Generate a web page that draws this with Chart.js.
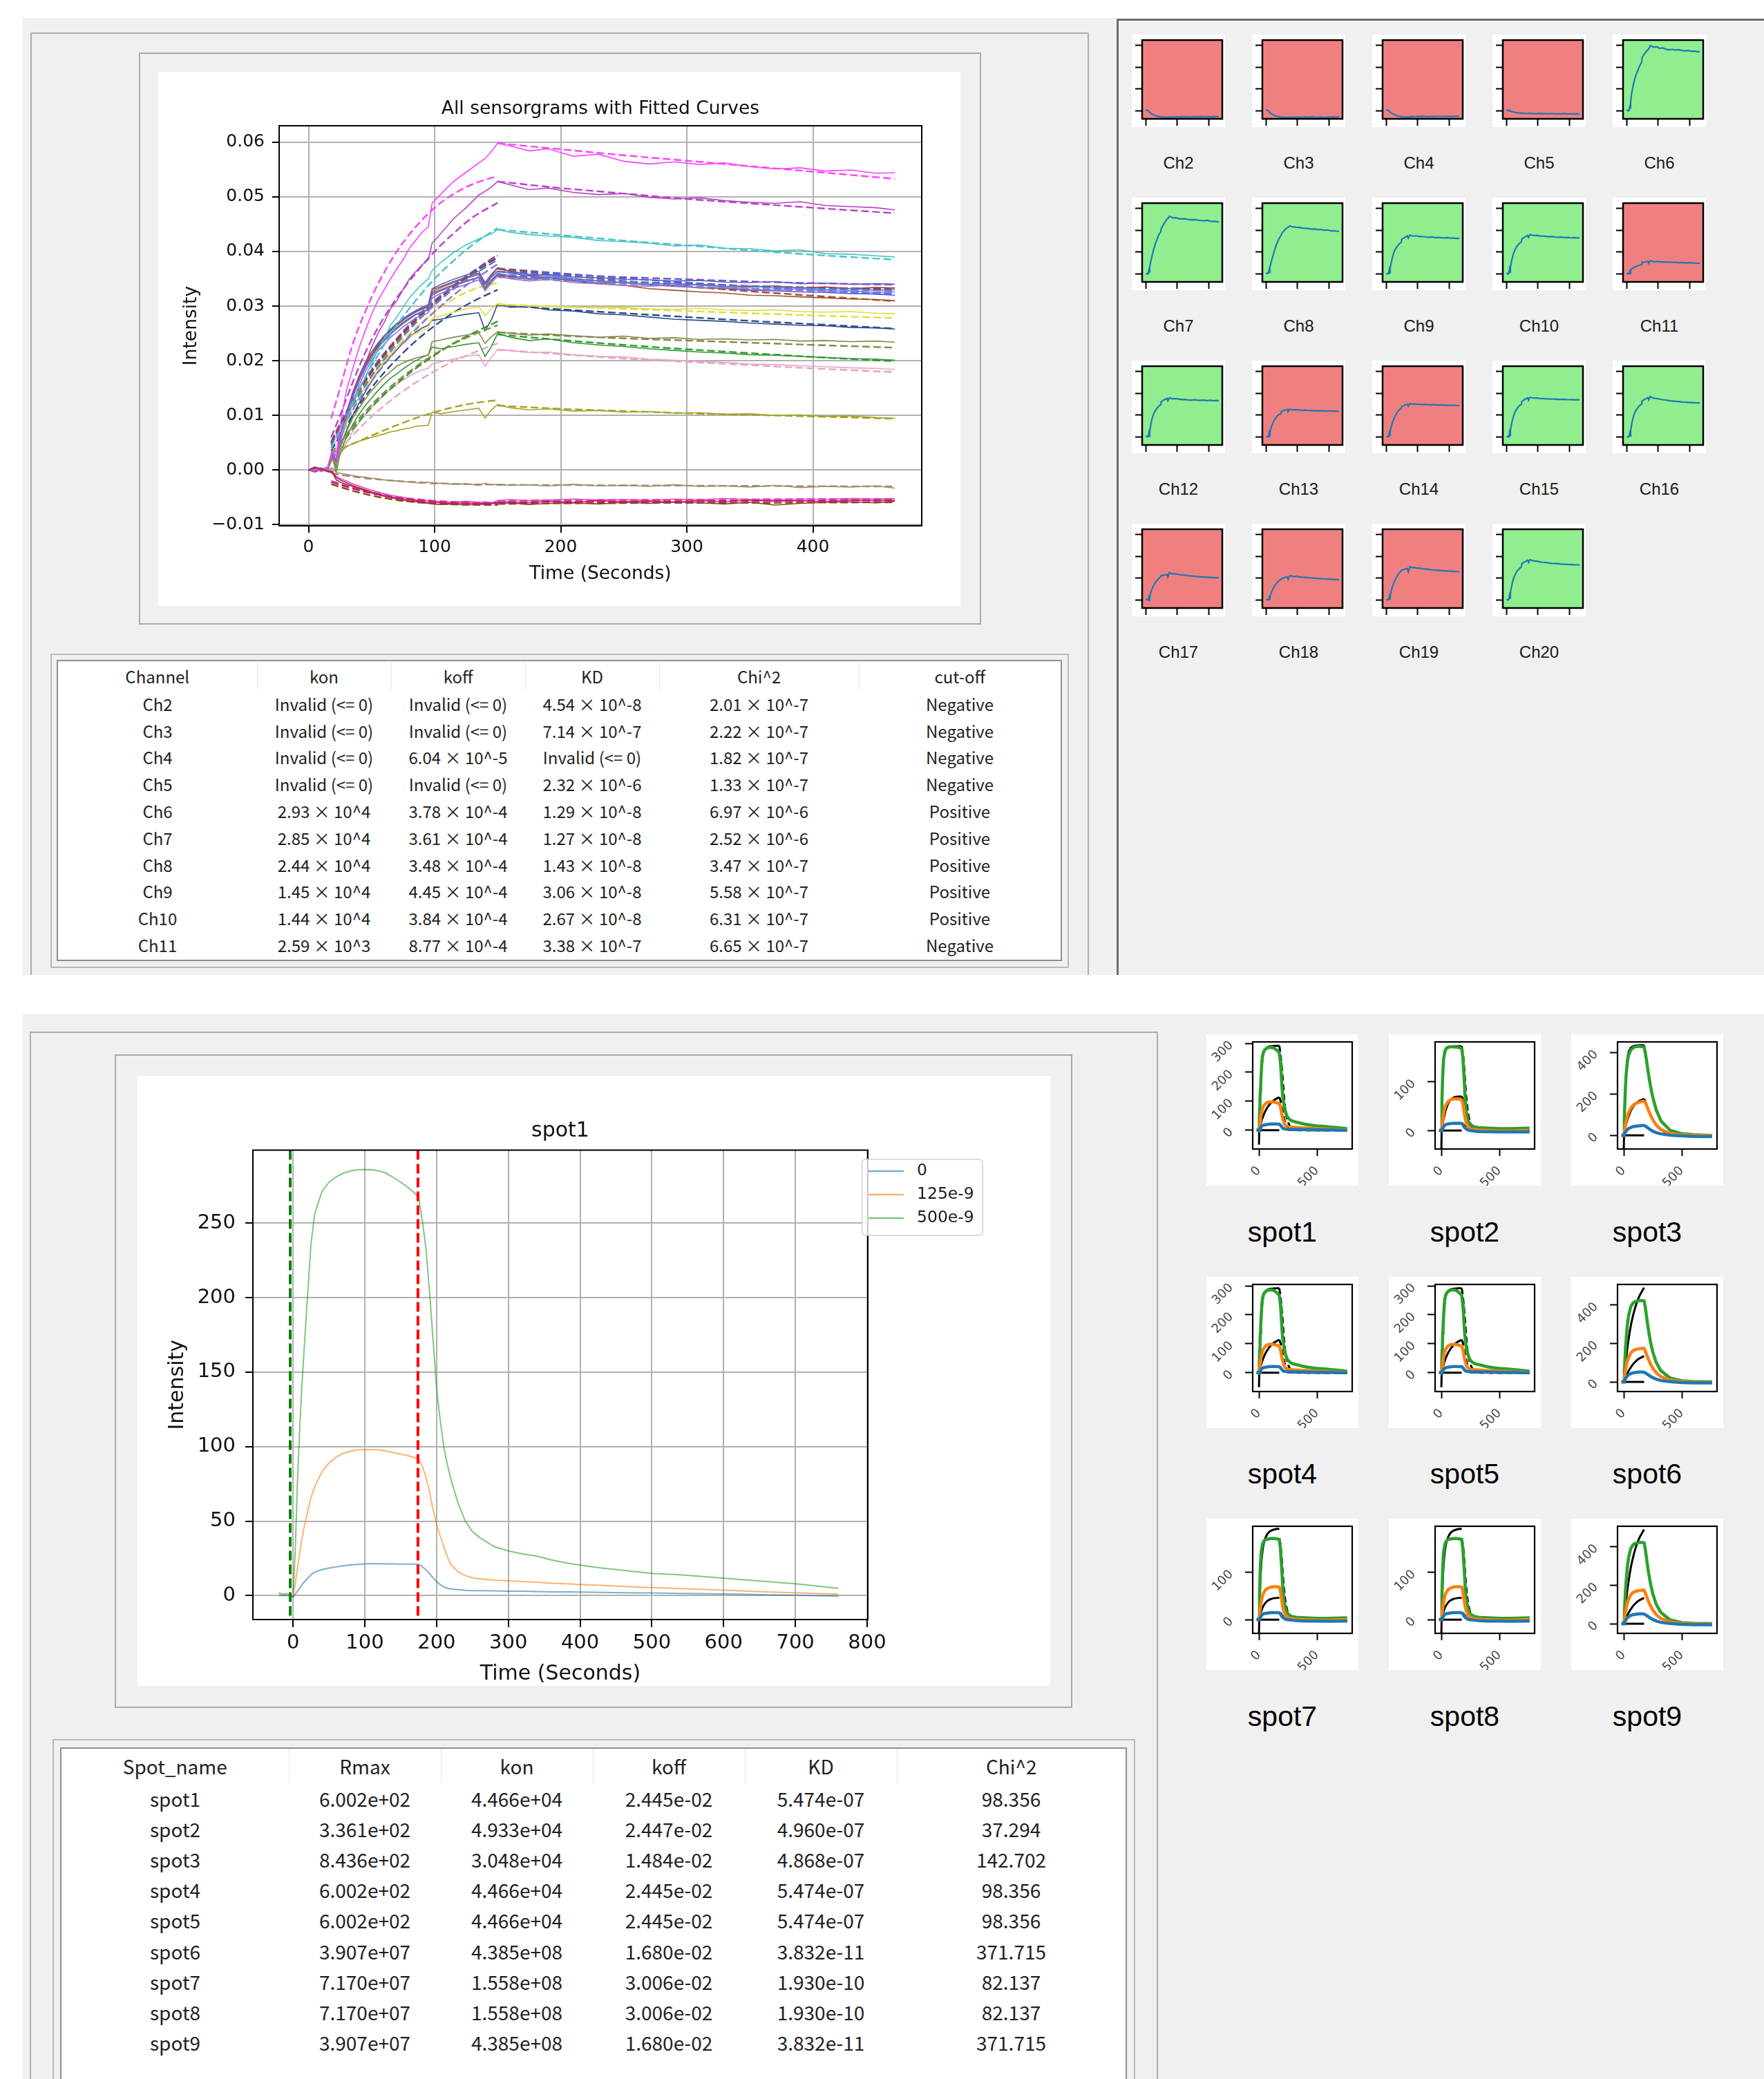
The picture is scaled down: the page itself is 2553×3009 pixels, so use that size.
<!DOCTYPE html>
<html><head><meta charset="utf-8">
<script src="https://cdn.jsdelivr.net/npm/chart.js@4.4.1/dist/chart.umd.min.js"></script>
<style>
html,body{margin:0;padding:0;background:#fff;}
body{width:2553px;height:3009px;position:relative;overflow:hidden;font-family:'DejaVu Sans',sans-serif;}
.abs{position:absolute;box-sizing:border-box;}
canvas.cv{position:absolute;display:block;background:#fff;}
.lbl{position:absolute;text-align:center;font-family:'Liberation Sans',Arial,sans-serif;color:#1a1a1a;white-space:nowrap;}
table{border-collapse:collapse;table-layout:fixed;font-family:'Noto Sans CJK KR',sans-serif;color:#1e1e1e;}
td,th{padding:0;text-align:center;font-weight:normal;white-space:nowrap;overflow:hidden;}
th{border-right:1px solid #e6e6e6;}
th:last-child{border-right:none;}
</style></head><body>

<!-- top section -->
<div class="abs" style="left:33px;top:26px;width:1584px;height:1385px;background:#f0f0f0"></div>
<div class="abs" style="left:1616px;top:27px;width:937px;height:1384px;background:#f0f0f0;border-left:3px solid #6b6b6b;border-top:3px solid #6b6b6b"></div>
<div class="abs" style="left:44px;top:47px;width:1532px;height:1364px;border:2px solid #adadad;border-bottom:none"></div>
<div class="abs" style="left:201px;top:76px;width:1219px;height:828px;border:2px solid #a9a9a9;background:#f0f0f0"></div>
<canvas class="cv" id="mainChart" width="1161" height="773" style="left:229px;top:104px;width:1161px;height:773px"></canvas>
<div class="abs" style="left:73px;top:946px;width:1474px;height:455px;border:2px solid #b9b9b9;background:#f0f0f0"></div>
<div class="abs" style="left:82px;top:955px;width:1455px;height:436px;border:2px solid #8f8f8f;background:#fff;overflow:hidden">
  <table id="tblTop" style="width:1451px;font-size:24px">
    <colgroup><col style="width:288px"><col style="width:194px"><col style="width:194px"><col style="width:194px"><col style="width:289px"><col style="width:292px"></colgroup>
    <thead><tr style="height:42px" id="tblTopHead"></tr></thead>
    <tbody id="tblTopBody"></tbody>
  </table>
</div>

<!-- bottom section -->
<div class="abs" style="left:33px;top:1468px;width:2520px;height:1541px;background:#f0f0f0"></div>
<div class="abs" style="left:43px;top:1493px;width:1633px;height:1516px;border:2px solid #adadad;border-bottom:none"></div>
<div class="abs" style="left:166px;top:1526px;width:1386px;height:946px;border:2px solid #a9a9a9;background:#f0f0f0"></div>
<canvas class="cv" id="spotChart" width="1321" height="883" style="left:199px;top:1557px;width:1321px;height:883px"></canvas>
<div class="abs" style="left:76px;top:2517px;width:1567px;height:600px;border:2px solid #b9b9b9;border-bottom:none;background:#f0f0f0"></div>
<div class="abs" style="left:87px;top:2529px;width:1544px;height:600px;border:2px solid #8f8f8f;border-bottom:none;background:#fff;overflow:hidden">
  <table id="tblBot" style="width:1540px;font-size:28px">
    <colgroup><col style="width:329px"><col style="width:220px"><col style="width:220px"><col style="width:220px"><col style="width:220px"><col style="width:331px"></colgroup>
    <thead><tr style="height:50px" id="tblBotHead"></tr></thead>
    <tbody id="tblBotBody"></tbody>
  </table>
</div>

<script>
// ---------------- DATA (intensity values of the sensorgrams are in units of 1e-3) ----------------
const timeRaw = [0,5,10,15,19,22,25,30,35,40,45,50,55,60,65,70,75,80,85,90,95,98,105,115,125,135,140,145,150,160,175,190,210,230,250,270,290,310,330,350,370,390,410,430,450,465];
const timeFitOn = [18,25,35,45,55,70,85,100,115,130,150];
const timeFitOff = [150,200,250,300,350,400,465];

const channelNames = ['Ch2','Ch3','Ch4','Ch5','Ch6','Ch7','Ch8','Ch9','Ch10','Ch11','Ch12','Ch13','Ch14','Ch15','Ch16','Ch17','Ch18','Ch19','Ch20'];
const channelColors = ['#c71585','#8b4513','#d94fb0','#a08c6c','#ff40ff','#b940c8','#45c4c8','#9370db','#4682d8','#a3a324','#a33a3a','#868648','#dede3c','#6a5acd','#a0522d','#2e9a2e','#e6a3c8','#2c4c8c','#4169e1'];
const channelCutoff = ['Negative','Negative','Negative','Negative','Positive','Positive','Positive','Positive','Positive','Negative','Positive','Negative','Negative','Positive','Positive','Negative','Negative','Negative','Positive'];

const ch2Raw  = [0,0.5,0.3,-0.2,-0.3,-1.4,-1.8, -2.3,-2.8,-3.2,-3.6,-4.0,-4.3,-4.6,-4.9,-5.1,-5.3,-5.5,-5.6,-5.8,-5.9, -5.8, -6.0,-6.1,-6.0,-6.2, -6.0,-6.1,-5.9, -5.8,-6.0,-5.7, -5.9,-5.6,-5.8,-5.7,-5.9,-5.6,-5.8,-5.5,-5.7,-5.6,-5.8,-5.5,-5.6, -5.5];
const ch3Raw  = [0,0.4,0.2,-0.3,-0.5,-1.8,-2.2, -2.6,-3.0,-3.4,-3.8,-4.2,-4.5,-4.8,-5.0,-5.3,-5.5,-5.7,-5.8,-6.0,-6.1, -6.2, -6.3,-6.2,-6.4,-6.2, -6.3,-6.1,-6.2, -6.0,-6.3,-6.1, -6.0,-6.2,-5.9,-6.1,-5.8,-6.0,-6.2,-5.9,-6.4,-6.1,-5.9,-5.8,-6.0, -5.7];
const ch4Raw  = [0,0.6,0.1,0,-0.2,-1.2,-1.5, -2.0,-2.5,-2.9,-3.3,-3.7,-4.0,-4.3,-4.6,-4.8,-5.0,-5.2,-5.4,-5.5,-5.6, -5.7, -5.8,-5.9,-5.7,-5.9, -5.8,-6.0,-5.6, -5.4,-5.6,-5.5, -5.3,-5.5,-5.4,-5.6,-5.3,-5.5,-5.2,-5.4,-5.5,-5.3,-5.4,-5.2,-5.3, -5.2];
const ch5Raw  = [0,0.5,0.2,0.1,0.4,-0.5,-0.6, -0.8,-1.0,-1.2,-1.3,-1.5,-1.6,-1.8,-1.9,-2.0,-2.1,-2.2,-2.3,-2.4,-2.2, -2.5, -2.4,-2.6,-2.5,-2.8, -2.4,-2.7,-2.6, -2.8,-2.7,-2.9, -2.6,-2.9,-2.8,-3.0,-2.7,-3.0,-2.9,-3.1,-2.8,-3.2,-3.0,-3.1,-2.9, -3.3];
const ch6Raw  = [0,0.4,-0.3,0.3,3.5,2.5,8, 14.5,18.5,22.3,25.5,28.5,31,33,35,36.8,38.5,40.6,42,43.5,44.5, 48.8, 50.5,52.8,54.5,56.2, 57,58.3,59.8, 59.3,58.4,58.8, 57.4,57.8,56.5,56,56.4,55.9,56.2,55.5,55.1,55.3,54.7,54.9,54.3, 54.4];
const ch7Raw  = [0,-0.3,0.3,-0.2,3,1.5,6.5, 10,13.5,16.5,19.5,22.5,25,27,29.5,31,33,35,36.3,37.5,38.5, 41.5, 43.3,46,48,50.3, 51,51.8,52.8, 52.2,51.3,51.6, 50.8,50.4,50.6,49.9,49.6,49.8,49.3,49.0,48.8,49.1,48.4,48.2,48.0, 47.6];
const ch8Raw  = [0,0.5,0.2,0.6,3.2,1.2,6, 9,12,14.5,17,19.5,22,24,26.5,28,29.8,31.5,32.8,34,35, 36.5, 38,39.8,41.2,42.3, 42.8,43.2,44.0, 43.5,43.1,42.8, 42.6,42.0,41.8,41.5,41.0,41.2,40.6,40.5,40.1,40.3,39.6,39.5,39.2, 39.0];
const ch9Raw  = [0,-0.2,0.3,0,3.4,0.8,5, 9,12.3,15.5,18,20,21.8,23,24.3,25.2,26.2,27,27.8,28.3,28.8, 31.5, 32.3,33.2,34,34.8, 32.8,34.2,35.5, 35,34.6,34.9, 34.3,34.1,33.8,33.6,33.9,33.3,33.4,33.1,32.9,33.2,32.7,32.8,32.5, 32.6];
const ch10Raw = [0,0.3,-0.3,0.2,3.8,1.3,5.8, 10,13.3,16.2,18.6,20.5,22.3,23.6,24.9,25.8,26.8,27.6,28.4,28.9,29.3, 32, 32.8,33.7,34.5,35.2, 33.4,34.8,36, 35.6,35.1,35.3, 34.8,34.6,34.3,34.0,34.2,33.8,33.6,33.7,33.3,33.4,33.0,33.2,32.9, 33.0];
const ch11Raw = [0,0.3,-0.2,0.2,2,0,3.2, 4.3,4.8,5.3,5.6,6,6.3,6.6,7,7.2,7.5,7.7,8,8.1,8.2, 10.6, 10.3,10.7,11,11.3, 9.5,11,12, 11.4,11,11.2, 10.8,10.9,10.6,10.7,10.4,10.5,10.2,10.3,10.0,10.1,9.8,9.9,9.6, 9.5];
const ch12Raw = [0,0.4,-0.1,0.3,3.3,0.5,5.3, 9.5,13.5,16.8,19.2,21,22.6,23.8,25,26,27,27.8,28.5,29,29.4, 32.3, 33,33.9,34.6,35.3, 33.2,34.6,35.8, 35.3,34.9,35.2, 34.7,34.2,34.4,33.9,33.7,34.0,33.6,33.5,33.7,33.3,33.5,33.2,33.4, 33.3];
const ch13Raw = [0,0.2,0.1,-0.2,3,0.2,4, 7,9.5,11.3,13,14.5,15.8,17,18,19,19.6,20.1,20.5,20.8,21, 23.5, 23.8,24.3,24.7,25.1, 23.2,24.4,25.3, 25,24.7,24.9, 24.6,24.3,24.5,24.1,24.2,23.9,24.0,23.8,23.9,23.6,23.7,23.5,23.6, 23.4];
const ch14Raw = [0,0.1,0.3,0.1,3.2,1.0,5, 8.3,11,13.3,15.3,17,18.6,20,21.3,22.5,23.5,24.4,25,25.5,26, 27.7, 28.2,28.9,29.5,29.9, 28.2,29.5,30.5, 30.2,30.0,30.1, 29.8,29.7,29.8,29.5,29.4,29.6,29.3,29.2,29.3,29.0,28.9,29.0,28.7, 28.6];
const ch15Raw = [0,0,0.4,-0.2,3.6,1.0,6, 10.3,13.8,16.6,19,21,22.8,24.2,25.4,26.4,27.4,28.2,28.9,29.4,29.9, 32.6, 33.4,34.3,35.1,35.8, 33.6,35.3,36.4, 36,35.6,35.8, 35.3,35.2,34.9,34.8,34.6,34.7,34.4,34.3,34.5,34.1,34.2,34.0,34.1, 34.0];
const ch16Raw = [0,-0.4,0.1,0.3,3.0,0.6,5.5, 10.2,14,17,19.5,21.5,23,24.5,25.6,26.6,27.5,28.3,29,29.6,30, 33, 33.6,34.5,35.3,36, 34,35.5,37, 36.2,35.5,35.3, 34.6,34.1,33.8,33.2,32.9,32.6,32.4,32.0,31.9,31.7,31.5,31.3,31.2, 31.0];
const ch17Raw = [0,0.3,-0.2,0.1,2.2,-0.5,3, 6,8.3,10.2,11.8,13.2,14.5,15.7,16.8,17.6,18.5,19.3,20,20.6,21.1, 22.5, 22.2,22.6,23,23.3, 20.8,22.6,25, 24.3,23.7,24.0, 23.3,22.9,22.6,22.2,21.9,21.6,21.4,21.1,21.0,20.8,20.6,20.4,20.3, 20.1];
const ch18Raw = [0,0.1,0.3,-0.1,2,0.3,2.6, 5,7,8.7,10.2,11.5,12.7,13.8,14.8,15.7,16.5,17.2,17.8,18.3,18.6, 19.4, 19.8,20.3,20.8,21.1, 19.0,20.6,22.1, 21.9,21.5,21.6, 21.1,20.8,20.7,20.3,20.1,19.9,19.7,19.4,19.3,19.1,18.9,18.7,18.6, 18.4];
const ch19Raw = [0,-0.2,0.2,0,2.8,0.6,4.2, 7.2,10,12.2,14.3,16.2,18,19.5,20.8,22,23.2,24.3,25.2,26,26.5, 27.4, 27.6,28.1,28.5,28.8, 25.5,27.5,30.4, 29.8,29.9,29.3, 29.1,28.6,28.4,28.0,27.6,27.4,27.2,26.9,26.7,26.5,26.4,26.1,26.0, 25.8];
const ch20Raw = [0,0.2,-0.2,0.4,3.7,1.5,6.2, 10.5,14.2,17.2,19.7,21.6,23.2,24.6,25.8,26.8,27.7,28.5,29.2,29.8,30.3, 33.2, 34,34.9,35.7,36.4, 34.3,35.8,37, 36.4,35.8,35.6, 35.0,34.6,34.3,33.9,33.6,33.4,33.2,32.9,32.8,32.6,32.5,32.3,32.2, 32.0];

const ch2FitOn  = [-2.2,-2.7,-3.4,-4.0,-4.5,-5.1,-5.5,-5.8,-6.0,-6.1,-6.2];  const ch2FitOff  = [-5.9,-5.8,-5.75,-5.7,-5.65,-5.6,-5.55];
const ch3FitOn  = [-2.6,-3.1,-3.8,-4.4,-4.9,-5.5,-5.9,-6.1,-6.3,-6.35,-6.4]; const ch3FitOff  = [-6.2,-6.1,-6.05,-6.0,-6.0,-5.95,-5.9];
const ch4FitOn  = [-2.0,-2.5,-3.2,-3.8,-4.3,-4.9,-5.3,-5.6,-5.8,-5.9,-6.0];  const ch4FitOff  = [-5.6,-5.5,-5.45,-5.4,-5.35,-5.3,-5.25];
const ch5FitOn  = [-0.6,-0.9,-1.2,-1.5,-1.7,-2.0,-2.2,-2.4,-2.5,-2.6,-2.7];  const ch5FitOff  = [-2.7,-2.75,-2.8,-2.85,-2.9,-2.95,-3.0];
const ch6FitOn  = [9.4,15,23,29,34,40,44.5,48,50.5,52.3,53.8];              const ch6FitOff  = [59.8,58.7,57.6,56.6,55.6,54.6,53.3];
const ch7FitOn  = [6,10,16,21.5,26,31.5,36,40,43.3,46.2,48.9];              const ch7FitOff  = [52.8,51.6,50.6,49.6,48.8,48,47];
const ch8FitOn  = [4,7.5,12.5,17,21,26.5,31,35,38.3,41.2,44.3];             const ch8FitOff  = [44,43,42,41.1,40.2,39.4,38.5];
const ch9FitOn  = [4,7,11,14.6,17.8,22,25.7,29,32,34.6,37.7];               const ch9FitOff  = [35.3,34.7,34.1,33.6,33.2,32.8,32.4];
const ch10FitOn = [4.5,7.6,11.8,15.5,18.8,23.1,26.9,30.2,33.1,35.6,38.5];   const ch10FitOff = [35.8,35.1,34.5,34,33.6,33.2,32.8];
const ch11FitOn = [3,3.8,4.8,5.8,6.8,8.2,9.5,10.6,11.5,12.2,12.8];          const ch11FitOff = [11.8,11.2,10.8,10.4,10.1,9.8,9.4];
const ch12FitOn = [5,8.2,12.5,16.3,19.6,23.8,27.5,30.7,33.5,36,38.9];       const ch12FitOff = [35.6,35,34.5,34.1,33.7,33.4,33.1];
const ch13FitOn = [3,5,8,10.7,13.1,16.2,18.9,21.2,23.1,24.7,26.5];          const ch13FitOff = [25.2,24.6,24.1,23.7,23.3,22.9,22.4];
const ch14FitOn = [4.5,7.5,11.5,15,18.2,22.5,26,29,31.3,33,34.3];           const ch14FitOff = [30.3,29.9,29.5,29.1,28.7,28.3,27.8];
const ch15FitOn = [5.2,8.5,12.8,16.6,19.9,24.1,27.8,31,33.8,36.3,39.4];     const ch15FitOff = [36.3,35.8,35.3,34.9,34.5,34.2,33.9];
const ch16FitOn = [4.8,8,12.3,16.1,19.4,23.6,27.3,30.6,33.5,36.1,39.2];     const ch16FitOff = [36.8,35.7,34.6,33.6,32.7,31.9,30.9];
const ch17FitOn = [2.5,4.5,7.5,10.2,12.7,15.8,18.6,21,23.2,25,27.2];        const ch17FitOff = [24.8,23.8,22.9,22.1,21.4,20.7,19.9];
const ch18FitOn = [2,3.8,6.3,8.7,10.8,13.6,16,18.1,19.9,21.4,23.2];         const ch18FitOff = [22,21.2,20.4,19.8,19.2,18.6,17.9];
const ch19FitOn = [3.5,6.3,10,13.5,16.5,20.3,23.6,26.4,28.8,30.8,33];       const ch19FitOff = [30.2,29.4,28.7,28,27.3,26.7,25.9];
const ch20FitOn = [5,8.3,12.6,16.4,19.7,23.9,27.6,30.8,33.6,36.2,39.3];     const ch20FitOff = [36.9,36,35.1,34.3,33.6,32.9,32.1];

const mainXTicks = [0,100,200,300,400];
const mainYTicks = [-0.01,0,0.01,0.02,0.03,0.04,0.05,0.06];
const thumbXTicks = [0,200,400];
const thumbYTicks = [0,0.02,0.04,0.06];

// table of top panel (Ch2..Ch11)
const tableChannels = ['Ch2','Ch3','Ch4','Ch5','Ch6','Ch7','Ch8','Ch9','Ch10','Ch11'];
const tableKon  = ['Invalid (<= 0)','Invalid (<= 0)','Invalid (<= 0)','Invalid (<= 0)','2.93 × 10^4','2.85 × 10^4','2.44 × 10^4','1.45 × 10^4','1.44 × 10^4','2.59 × 10^3'];
const tableKoff = ['Invalid (<= 0)','Invalid (<= 0)','6.04 × 10^-5','Invalid (<= 0)','3.78 × 10^-4','3.61 × 10^-4','3.48 × 10^-4','4.45 × 10^-4','3.84 × 10^-4','8.77 × 10^-4'];
const tableKD   = ['4.54 × 10^-8','7.14 × 10^-7','Invalid (<= 0)','2.32 × 10^-6','1.29 × 10^-8','1.27 × 10^-8','1.43 × 10^-8','3.06 × 10^-8','2.67 × 10^-8','3.38 × 10^-7'];
const tableChi  = ['2.01 × 10^-7','2.22 × 10^-7','1.82 × 10^-7','1.33 × 10^-7','6.97 × 10^-6','2.52 × 10^-6','3.47 × 10^-7','5.58 × 10^-7','6.31 × 10^-7','6.65 × 10^-7'];
const tableCut  = ['Negative','Negative','Negative','Negative','Positive','Positive','Positive','Positive','Positive','Negative'];

// spot1 sensorgram
const spotTime = [-20,-15,-10,-5,0,3,6,9,12,15,20,25,30,40,50,60,70,80,90,100,110,120,130,140,150,160,170,175,180,185,190,195,200,205,210,215,220,230,240,250,260,280,300,320,340,360,380,400,430,460,500,540,580,620,660,700,730,760];
const spot1Blue   = [0,0.3,0,0.2,-1, 1,3,5,7,9, 11.5,14,15.8, 17.5,18.5,19.3,20,20.6,21,21.3,21.4,21.4,21.3,21.3,21.2,21.2,21.2, 21, 19.5,17.5,15,12,9.5,7.5,6,5,4.5, 4,3.6,3.4,3.3, 3.2,3,3,2.8,2.6,2.5,2.4, 2.2,2,1.8,1.5,1.3,1,0.6,0.3,0,-0.3];
const spot1Orange = [0.5,0,0.5,0,-0.5, 8,18,28,37,45, 56,66,73, 83,89,93,95.5,97,97.8,98,98,97.8,97,96,95,94,92.5, 91.5, 87,80,70,58,48,40,33,26,21, 16,13.5,12,11.3, 10.5,10,9.5,9,8.3,8,7.5, 7,6.3,5.5,4.8,4,3.3,2.5,2,1.5,1];
const spot1Green  = [2,1,1.5,0.5,-1, 30,75,110,138,162, 200,236,256, 271,277.5,281,283.5,285,285.8,286,285.8,285,283.5,280.5,277.5,274,270, 267, 252,234,205,172,139,118,100,88,78, 62,50,43,39, 33,30,28,26.5,24,22,20.5, 18.5,17,15,14,12.5,11,9.5,8,6.5,5];
const spotConcLabels = ['0','125e-9','500e-9'];
const injectionWindow = [-4, 174];
const spotXTicks = [0,100,200,300,400,500,600,700,800];
const spotYTicks = [0,50,100,150,200,250];

// thumbnails of spots
const thumbTime = [-20,0,5,10,15,20,30,40,60,80,100,130,160,175,185,195,205,215,230,250,280,320,400,500,600,700,760];
const spot2Green  = [1,0,60,105,130,148, 162,168,171,172,172,171.5,170, 168,150,110,65,38, 20,12,8,6, 5,4,4,4.5,5];
const spot2Orange = [0,0,8,18,27,35, 46,53,60,63,65,65,64, 63,55,40,25,15, 8,4,2,1, 0,-1,-1,0,0];
const spot2Blue   = [0,0,2,4,6,8, 11,12.5,13.5,14.3,15,15,15, 14.5,12,8,5,3, 1,0,-1,-2, -2.5,-3,-3,-3,-3];
const spot3Green  = [2,0,90,170,240,290, 350,385,412,423,428,430,428, 425,400,365,325,288, 238,183,122,70, 24,8,3,1,0];
const spot3Orange = [0,0,15,32,50,65, 90,108,130,145,153,160,164, 165,158,146,132,118, 98,75,50,28, 9,2,0,-2,-2];
const spot3Blue   = [0,0,5,10,15,20, 27,32,38,42,44,46,47, 47,45,41,37,33, 27,20,13,7, 1,-3,-5,-6,-6];
const spot6Green  = [0,0,60,120,175,220, 290,340,390,410,418,422,422, 420,388,345,300,260, 208,155,100,58, 20,6,2,1,0];
const spot6Orange = [0,0,20,40,60,78, 105,125,150,162,168,172,174, 174,160,144,128,113, 93,71,47,27, 9,1,-2,-3,-3];
const spot6Blue   = [0,0,5,11,17,22, 30,36,43,47,49,51,51, 50,47,43,39,35, 29,22,14,7, 1,-3,-5,-5,-5];
const spot7Green  = [2,0,55,100,128,145, 160,166,170,171,172,172,171, 170,150,112,70,42, 22,12,7,5, 4,3,3,3.5,4];
const spot7Orange = [0,0,10,20,30,38, 50,57,64,67,69,70,70, 69,60,44,28,17, 9,5,2,1, 0,-1,-1,0,0];
const spot7Blue   = [0,0,2,4,6,8, 11,12.5,13.5,14.3,15,15,15, 14.5,12,8,5,3, 1,0,-1,-2, -3,-3,-3.5,-3,-3];

const fitOnTime  = [0,5,10,20,30,40,60,80,100,130,175];
const fitOffTime = [175,185,195,205,215,230,250,280,320,400,500,600,760];
const blueFitOn  = [0,0,0,0,0,0,0,0,0,0,0];
const spot1GreenOn  = [-50,45,115,200,245,268,283,288,290,291,292];
const spot1OrangeOn = [0,8,16,30,42,53,70,83,93,104,114];
const spot1GreenOff = [292,265,225,175,120,62,28,8,2,0.5,0,0,0];
const spot1OrangeOff= [114,103,85,62,42,22,9,3,1,0,0,0,0];
const spot1BlueOff  = [18,16,12,8.5,5.5,3,1.3,0.4,0,0,0,0,0];
const spot2GreenOn  = [-38,40,95,145,163,169,172,172.5,173,173,173];
const spot2OrangeOn = [0,6,12,24,35,44,56,63,67,69.5,70];
const spot2GreenOff = [173,160,135,100,68,36,15,4,1,0,0,0,0];
const spot2OrangeOff= [70,64,52,38,26,14,6,1.5,0.3,0,0,0,0];
const spot2BlueOff  = [15,14,11,8,5.5,3,1.2,0.3,0,0,0,0,0];
const spot3GreenOn  = [-66,80,175,300,365,398,422,430,433,435,435];
const spot3OrangeOn = [0,14,28,52,72,90,118,138,152,166,176];
const spot3GreenOff = [435,405,370,330,292,240,185,125,72,25,6,1.5,0];
const spot3OrangeOff= [176,165,150,134,118,97,74,48,26,8,2,0.5,0];
const spot3BlueOff  = [47,44,40,36,32,26,20,13,7,2,0.5,0,0];
const spot6GreenOn  = [0,30,60,115,170,215,290,345,390,440,489];
const spot6OrangeOn = [0,8,16,30,43,55,75,92,105,120,134];
const spot6GreenOff = [420,388,345,300,260,208,155,100,58,20,6,1.5,0];
const spot6OrangeOff= [172,160,144,128,113,93,71,47,27,9,2.5,0.5,0];
const spot6BlueOff  = [51,48,44,40,36,30,23,15,8,3,0.8,0,0];
const spot7GreenOn  = [-29,30,70,118,145,160,176,184,188,191,193];
const spot7OrangeOn = [0,5,10,18,25,30,37,41,43.5,45.5,46.5];
const spot7GreenOff = [172,160,135,100,68,36,15,4,1,0,0,0,0];
const spot7OrangeOff= [70,64,52,38,26,14,6,1.5,0.3,0,0,0,0];
const spot7BlueOff  = [15,14,11,8,5.5,3,1.2,0.3,0,0,0,0,0];

const spotNames = ['spot1','spot2','spot3','spot4','spot5','spot6','spot7','spot8','spot9'];
const spotRmax = ['6.002e+02','3.361e+02','8.436e+02','6.002e+02','6.002e+02','3.907e+07','7.170e+07','7.170e+07','3.907e+07'];
const spotKon  = ['4.466e+04','4.933e+04','3.048e+04','4.466e+04','4.466e+04','4.385e+08','1.558e+08','1.558e+08','4.385e+08'];
const spotKoff = ['2.445e-02','2.447e-02','1.484e-02','2.445e-02','2.445e-02','1.680e-02','3.006e-02','3.006e-02','1.680e-02'];
const spotKD   = ['5.474e-07','4.960e-07','4.868e-07','5.474e-07','5.474e-07','3.832e-11','1.930e-10','1.930e-10','3.832e-11'];
const spotChi  = ['98.356','37.294','142.702','98.356','98.356','371.715','82.137','82.137','371.715'];

// ---------------- build ----------------
Chart.defaults.font.family = "'DejaVu Sans', sans-serif";
Chart.defaults.color = '#1a1a1a';

const chRaw = [ch2Raw,ch3Raw,ch4Raw,ch5Raw,ch6Raw,ch7Raw,ch8Raw,ch9Raw,ch10Raw,ch11Raw,ch12Raw,ch13Raw,ch14Raw,ch15Raw,ch16Raw,ch17Raw,ch18Raw,ch19Raw,ch20Raw];
const chFitOn = [ch2FitOn,ch3FitOn,ch4FitOn,ch5FitOn,ch6FitOn,ch7FitOn,ch8FitOn,ch9FitOn,ch10FitOn,ch11FitOn,ch12FitOn,ch13FitOn,ch14FitOn,ch15FitOn,ch16FitOn,ch17FitOn,ch18FitOn,ch19FitOn,ch20FitOn];
const chFitOff = [ch2FitOff,ch3FitOff,ch4FitOff,ch5FitOff,ch6FitOff,ch7FitOff,ch8FitOff,ch9FitOff,ch10FitOff,ch11FitOff,ch12FitOff,ch13FitOff,ch14FitOff,ch15FitOff,ch16FitOff,ch17FitOff,ch18FitOff,ch19FitOff,ch20FitOff];

function pts(xs, ys, k) { return xs.map((x, i) => ({x: x, y: ys[i] * k})); }
function zeroPad(s) { s.paddingTop = 0; s.paddingBottom = 0; s.paddingLeft = 0; s.paddingRight = 0; }
function setTicks(list) { return s => { s.ticks = list.map(v => ({value: v})); }; }
function fmtMinus(v, d) { const t = Math.abs(v).toFixed(d); return (v < -1e-12 ? '\u2212' : '') + t; }

const areaPlugin = {
  id: 'area',
  beforeDraw(chart, args, o) {
    if (!o || !o.fill) return;
    const a = chart.chartArea, c = chart.ctx;
    c.save(); c.fillStyle = o.fill; c.fillRect(a.left, a.top, a.right - a.left, a.bottom - a.top); c.restore();
  },
  afterDatasetsDraw(chart, args, o) {
    if (!o || !o.vlines) return;
    const a = chart.chartArea, c = chart.ctx, xs = chart.scales.x;
    c.save();
    o.vlines.forEach(v => {
      const px = xs.getPixelForValue(v.x);
      c.strokeStyle = v.color; c.lineWidth = 4; c.setLineDash([14, 6]);
      c.beginPath(); c.moveTo(px, a.top); c.lineTo(px, a.bottom); c.stroke();
    });
    c.restore();
  },
  afterDraw(chart, args, o) {
    if (!o || !o.frame) return;
    const a = chart.chartArea, c = chart.ctx;
    c.save(); c.strokeStyle = o.frame; c.lineWidth = o.frameWidth || 2;
    c.strokeRect(a.left, a.top, a.right - a.left, a.bottom - a.top); c.restore();
  }
};
const boxLegend = {
  id: 'boxLegend',
  afterDraw(chart, args, o) {
    if (!o || !o.show) return;
    const c = chart.ctx, a = chart.chartArea;
    const L = a.right + o.dx, T = a.top + o.dy;
    c.save();
    c.fillStyle = 'rgba(255,255,255,0.8)'; c.strokeStyle = '#d0d0d0'; c.lineWidth = 1.5;
    c.beginPath(); c.roundRect(L, T, o.w, o.h, 5); c.fill(); c.stroke();
    c.font = o.font; c.textBaseline = 'middle'; c.textAlign = 'left';
    chart.data.datasets.forEach((d, k) => {
      const y = T + o.row0 + k * o.rowH;
      c.strokeStyle = d.borderColor; c.lineWidth = 2.5;
      c.beginPath(); c.moveTo(L + o.lx0, y); c.lineTo(L + o.lx1, y); c.stroke();
      c.fillStyle = '#1a1a1a'; c.fillText(d.label, L + o.tx, y);
    });
    c.restore();
  }
};
Chart.register(areaPlugin, boxLegend);

// ---- main sensorgram chart ----
const mainDatasets = [];
channelNames.forEach((n, k) => {
  const col = channelColors[k];
  mainDatasets.push({label: n, data: pts(timeRaw, chRaw[k], 1e-3), borderColor: col, borderWidth: 1.6, pointRadius: 0, fill: false, tension: 0});
  mainDatasets.push({label: n + ' fit', data: pts(timeFitOn, chFitOn[k], 1e-3), borderColor: col, borderWidth: 2.4, borderDash: [11, 5], pointRadius: 0, fill: false, cubicInterpolationMode: 'monotone'});
  mainDatasets.push({label: n + ' fit', data: pts(timeFitOff, chFitOff[k], 1e-3), borderColor: col, borderWidth: 2.4, borderDash: [11, 5], pointRadius: 0, fill: false, cubicInterpolationMode: 'monotone'});
});
new Chart(document.getElementById('mainChart'), {
  type: 'line',
  data: {datasets: mainDatasets},
  options: {
    responsive: false, animation: false, devicePixelRatio: 1, parsing: false,
    layout: {padding: {left: 0, right: 56, top: 0, bottom: 0}},
    plugins: {
      legend: {display: false}, tooltip: {enabled: false},
      title: {display: true, fullSize: false, text: 'All sensorgrams with Fitted Curves', color: '#111', font: {size: 26.5, weight: 'normal', lineHeight: 1.2}, padding: {top: 38, bottom: 8.2}},
      area: {frame: '#000', frameWidth: 2}
    },
    scales: {
      x: {type: 'linear', min: -23.3, max: 486.3,
        afterBuildTicks: setTicks(mainXTicks), afterFit: s => { s.height = 116; zeroPad(s); },
        ticks: {autoSkip: false, maxRotation: 0, padding: 6, color: '#111', font: {size: 25}, callback: v => String(v)},
        grid: {color: '#b0b0b0', lineWidth: 2, tickLength: 10, tickColor: '#000', tickWidth: 2},
        border: {display: false},
        title: {display: true, text: 'Time (Seconds)', color: '#111', font: {size: 26.5, lineHeight: 1.2}, padding: {top: 0, bottom: 30}}},
      y: {type: 'linear', min: -0.0102, max: 0.0630,
        afterBuildTicks: setTicks(mainYTicks), afterFit: s => { s.width = 175; zeroPad(s); },
        ticks: {autoSkip: false, padding: 11, color: '#111', font: {size: 25}, callback: v => fmtMinus(v, 2)},
        grid: {color: '#b0b0b0', lineWidth: 2, tickLength: 10, tickColor: '#000', tickWidth: 2},
        border: {display: false},
        title: {display: true, text: 'Intensity', color: '#111', font: {size: 26.5, lineHeight: 1.2}, padding: {top: 32.6, bottom: 0}}}
    }
  }
});

// ---- channel thumbnails ----
function addLabel(text, left, centerY, width, size, lh) {
  const d = document.createElement('div');
  d.className = 'lbl'; d.textContent = text;
  d.style.left = left + 'px'; d.style.width = width + 'px';
  d.style.top = (centerY - lh / 2) + 'px'; d.style.height = lh + 'px'; d.style.lineHeight = lh + 'px';
  d.style.fontSize = size + 'px';
  document.body.appendChild(d); return d;
}
function addCanvas(left, top, w, h) {
  const c = document.createElement('canvas');
  c.className = 'cv'; c.width = w; c.height = h;
  c.style.left = left + 'px'; c.style.top = top + 'px'; c.style.width = w + 'px'; c.style.height = h + 'px';
  document.body.appendChild(c); return c;
}
channelNames.forEach((n, k) => {
  const i = k % 5, j = Math.floor(k / 5);
  const x = 1638 + 174 * i, y = 50 + 236 * j;
  const cv = addCanvas(x, y, 135, 134);
  new Chart(cv, {
    type: 'line',
    data: {datasets: [{label: n, data: pts(timeRaw, chRaw[k], 1e-3), borderColor: '#1f77b4', borderWidth: 2.2, pointRadius: 0, fill: false}]},
    options: {
      responsive: false, animation: false, devicePixelRatio: 1, parsing: false,
      layout: {padding: {left: 0, right: 4, top: 8, bottom: 0}},
      plugins: {legend: {display: false}, tooltip: {enabled: false}, title: {display: false},
        area: {fill: channelCutoff[k] === 'Positive' ? '#90ee90' : '#f08080', frame: '#000', frameWidth: 2.5}},
      scales: {
        x: {type: 'linear', min: -23.3, max: 486.3, afterBuildTicks: setTicks(thumbXTicks), afterFit: s => { s.height = 12; zeroPad(s); },
          ticks: {display: false}, grid: {drawOnChartArea: false, tickLength: 10, tickColor: '#000', tickWidth: 2}, border: {display: false}},
        y: {type: 'linear', min: -0.0076, max: 0.065, afterBuildTicks: setTicks(thumbYTicks), afterFit: s => { s.width = 15; zeroPad(s); },
          ticks: {display: false}, grid: {drawOnChartArea: false, tickLength: 10, tickColor: '#000', tickWidth: 2}, border: {display: false}}
      }
    }
  });
  addLabel(n, x, 235.5 + 236 * j, 135, 24, 30);
});

// ---- spot1 chart ----
const spotColors = ['rgba(31,119,180,0.6)','rgba(255,127,14,0.6)','rgba(44,160,44,0.6)'];
new Chart(document.getElementById('spotChart'), {
  type: 'line',
  data: {datasets: [
    {label: spotConcLabels[0], data: pts(spotTime, spot1Blue, 1), borderColor: spotColors[0], borderWidth: 2, pointRadius: 0, fill: false},
    {label: spotConcLabels[1], data: pts(spotTime, spot1Orange, 1), borderColor: spotColors[1], borderWidth: 2, pointRadius: 0, fill: false},
    {label: spotConcLabels[2], data: pts(spotTime, spot1Green, 1), borderColor: spotColors[2], borderWidth: 2, pointRadius: 0, fill: false}
  ]},
  options: {
    responsive: false, animation: false, devicePixelRatio: 1, parsing: false,
    layout: {padding: {left: 0, right: 264, top: 0, bottom: 0}},
    plugins: {
      legend: {display: false}, tooltip: {enabled: false},
      title: {display: true, fullSize: false, text: 'spot1', color: '#111', font: {size: 30, weight: 'normal', lineHeight: 1.2}, padding: {top: 62, bottom: 9.6}},
      area: {frame: '#000', frameWidth: 2, vlines: [{x: injectionWindow[0], color: '#008000'}, {x: injectionWindow[1], color: '#ff0000'}]},
      boxLegend: {show: true, dx: -8.5, dy: 13.4, w: 174.5, h: 110, row0: 17, rowH: 34, lx0: 9.5, lx1: 60.5, tx: 79.5, font: "23.5px 'DejaVu Sans'"}
    },
    scales: {
      x: {type: 'linear', min: -56, max: 801,
        afterBuildTicks: setTicks(spotXTicks), afterFit: s => { s.height = 96; zeroPad(s); },
        ticks: {autoSkip: false, maxRotation: 0, padding: 6, color: '#111', font: {size: 29}, callback: v => String(v)},
        grid: {color: '#b0b0b0', lineWidth: 2, tickLength: 11, tickColor: '#000', tickWidth: 2},
        border: {display: false},
        title: {display: true, text: 'Time (Seconds)', color: '#111', font: {size: 30, lineHeight: 1.1}, padding: {top: 0, bottom: 0.5}}},
      y: {type: 'linear', min: -16, max: 299,
        afterBuildTicks: setTicks(spotYTicks), afterFit: s => { s.width = 167; zeroPad(s); },
        ticks: {autoSkip: false, padding: 14, color: '#111', font: {size: 29}, callback: v => String(v)},
        grid: {color: '#b0b0b0', lineWidth: 2, tickLength: 11, tickColor: '#000', tickWidth: 2},
        border: {display: false},
        title: {display: true, text: 'Intensity', color: '#111', font: {size: 30, lineHeight: 1.2}, padding: {top: 40, bottom: 0}}}
    }
  }
});

// ---- spot thumbnails ----
const spotProfiles = {
  A: {t: spotTime, b: spot1Blue, o: spot1Orange, g: spot1Green, gOn: spot1GreenOn, oOn: spot1OrangeOn, gOff: spot1GreenOff, oOff: spot1OrangeOff, bOff: spot1BlueOff, yMin: -65, yMax: 305, yTicks: [0,100,200,300]},
  B: {t: thumbTime, b: spot2Blue, o: spot2Orange, g: spot2Green, gOn: spot2GreenOn, oOn: spot2OrangeOn, gOff: spot2GreenOff, oOff: spot2OrangeOff, bOff: spot2BlueOff, yMin: -38, yMax: 182, yTicks: [0,100]},
  C: {t: thumbTime, b: spot3Blue, o: spot3Orange, g: spot3Green, gOn: spot3GreenOn, oOn: spot3OrangeOn, gOff: spot3GreenOff, oOff: spot3OrangeOff, bOff: spot3BlueOff, yMin: -66, yMax: 451, yTicks: [0,200,400]},
  D: {t: thumbTime, b: spot6Blue, o: spot6Orange, g: spot6Green, gOn: spot6GreenOn, oOn: spot6OrangeOn, gOff: spot6GreenOff, oOff: spot6OrangeOff, bOff: spot6BlueOff, yMin: -50, yMax: 506, yTicks: [0,200,400]},
  E: {t: thumbTime, b: spot7Blue, o: spot7Orange, g: spot7Green, gOn: spot7GreenOn, oOn: spot7OrangeOn, gOff: spot7GreenOff, oOff: spot7OrangeOff, bOff: spot7BlueOff, yMin: -29, yMax: 198, yTicks: [0,100]}
};
const spotProfileOf = ['A','B','C','A','A','D','E','E','D'];
spotNames.forEach((n, k) => {
  const p = spotProfiles[spotProfileOf[k]];
  const i = k % 3, j = Math.floor(k / 3);
  const x = 1746 + 264 * i, y = Math.round(1497 + 350.5 * j);
  const cv = addCanvas(x, y, 220, 219);
  const line = (xs, ys, col, w, dash, smooth) => ({data: pts(xs, ys, 1), borderColor: col, borderWidth: w, borderDash: dash || [], pointRadius: 0, fill: false, cubicInterpolationMode: smooth ? 'monotone' : 'default'});
  new Chart(cv, {
    type: 'line',
    data: {datasets: [
      line(p.t, p.b, '#1f77b4', 4.5), line(p.t, p.o, '#ff7f0e', 4.5), line(p.t, p.g, '#2ca02c', 4.5),
      line(fitOnTime, blueFitOn, '#000', 3, null, true),
      line(fitOnTime, p.oOn, '#000', 3, null, true),
      line(fitOnTime, p.gOn, '#000', 3, null, true),
      line(fitOffTime, p.bOff, '#000', 3, [9, 5], true), line(fitOffTime, p.oOff, '#000', 3, [9, 5], true), line(fitOffTime, p.gOff, '#000', 3, [9, 5], true)
    ]},
    options: {
      responsive: false, animation: false, devicePixelRatio: 1, parsing: false,
      layout: {padding: {left: 0, right: 9, top: 11, bottom: 0}},
      plugins: {legend: {display: false}, tooltip: {enabled: false}, title: {display: false}, area: {frame: '#000', frameWidth: 2.2}},
      scales: {
        x: {type: 'linear', min: -54, max: 803, afterBuildTicks: setTicks([0,500]), afterFit: s => { s.height = 53; zeroPad(s); },
          ticks: {autoSkip: false, minRotation: 45, maxRotation: 45, padding: 11, color: '#444', font: {size: 18}, callback: v => String(v)},
          grid: {drawOnChartArea: false, tickLength: 10, tickColor: '#000', tickWidth: 2}, border: {display: false}},
        y: {type: 'linear', min: p.yMin, max: p.yMax, afterBuildTicks: setTicks(p.yTicks), afterFit: s => { s.width = 67; zeroPad(s); },
          ticks: {autoSkip: false, minRotation: 45, maxRotation: 45, padding: 20, color: '#444', font: {size: 18}, callback: v => String(v)},
          grid: {drawOnChartArea: false, tickLength: 11, tickColor: '#000', tickWidth: 2}, border: {display: false}}
      }
    }
  });
  addLabel(n, x, 1782.7 + 350.5 * j, 220, 41, 48).style.color = '#000';
});

// ---- tables ----
function fillTable(headId, bodyId, heads, cols, rowH) {
  const hr = document.getElementById(headId);
  heads.forEach(h => { const th = document.createElement('th'); th.textContent = h; hr.appendChild(th); });
  const tb = document.getElementById(bodyId);
  cols[0].forEach((_, r) => {
    const tr = document.createElement('tr'); tr.style.height = rowH + 'px';
    cols.forEach(c => { const td = document.createElement('td'); td.textContent = c[r]; tr.appendChild(td); });
    tb.appendChild(tr);
  });
}
fillTable('tblTopHead', 'tblTopBody', ['Channel','kon','koff','KD','Chi^2','cut-off'], [tableChannels, tableKon, tableKoff, tableKD, tableChi, tableCut], 38.8);
fillTable('tblBotHead', 'tblBotBody', ['Spot_name','Rmax','kon','koff','KD','Chi^2'], [spotNames, spotRmax, spotKon, spotKoff, spotKD, spotChi], 44.1);
</script>
</body></html>
